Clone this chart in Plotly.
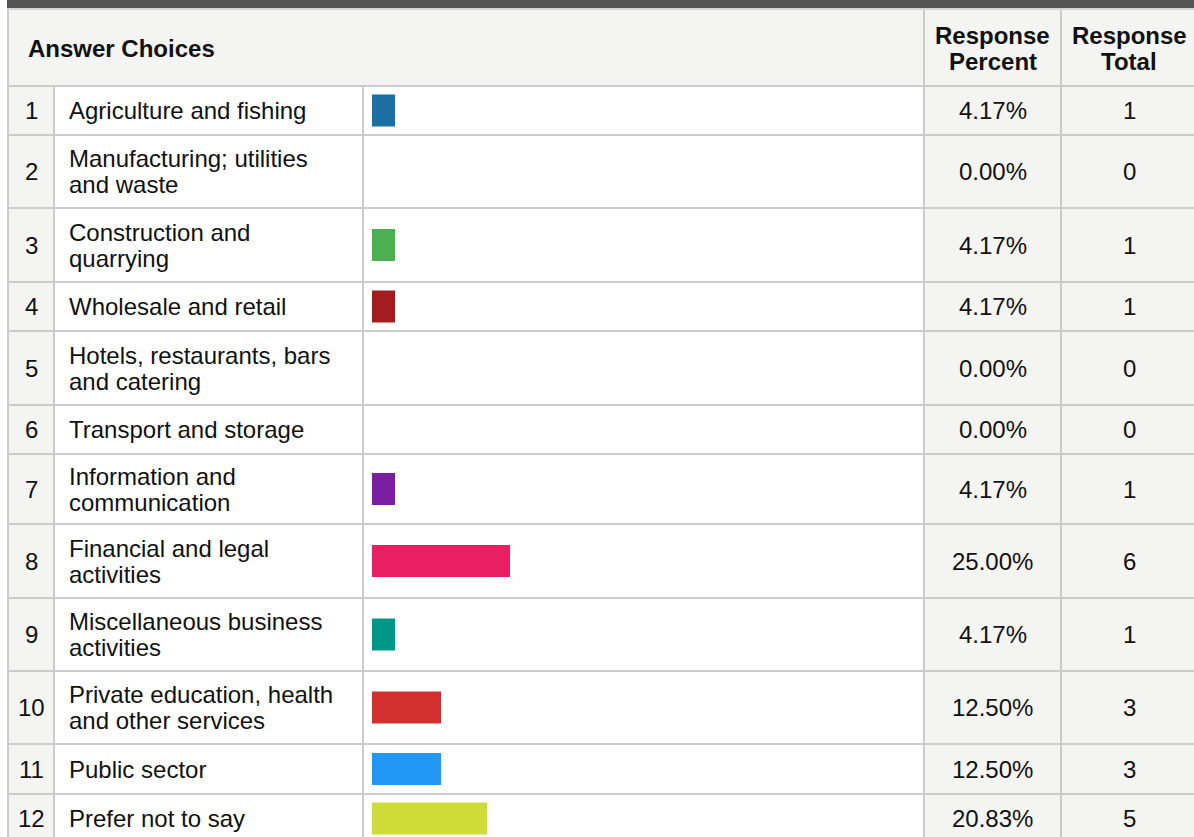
import plotly.graph_objects as go

# ---- data ----
ROW_NUMBERS = [str(i) for i in range(1, 13)]
CHOICES = [
    "Agriculture and fishing",
    "Manufacturing; utilities<br>and waste",
    "Construction and<br>quarrying",
    "Wholesale and retail",
    "Hotels, restaurants, bars<br>and catering",
    "Transport and storage",
    "Information and<br>communication",
    "Financial and legal<br>activities",
    "Miscellaneous business<br>activities",
    "Private education, health<br>and other services",
    "Public sector",
    "Prefer not to say",
]
PERCENTS = [4.17, 0.00, 4.17, 4.17, 0.00, 0.00, 4.17, 25.00, 4.17, 12.50, 12.50, 20.83]
TOTALS = [1, 0, 1, 1, 0, 0, 1, 6, 1, 3, 3, 5]
BAR_COLORS = ["#1c6ea4", "#ffffff", "#4caf50", "#a31c1f", "#ffffff", "#ffffff",
              "#7b1fa2", "#e91e63", "#009688", "#d32f2f", "#2196f3", "#cddc39"]

# ---- layout (pixel units) ----
W, H = 1194, 837
FONT = "Liberation Sans, Arial, sans-serif"
FS = 24
LINE_GAP = 26
BORDER = "#cccccc"
GREY = "#f4f4f2"
TABLE_LEFT = 7
HEADER_TOP, HEADER_BOTTOM = 10, 86
ROW_HEIGHTS = [49, 73, 74, 49, 74, 49, 70, 74, 73, 73, 50, 49]
COL_NUM_R, COL_TEXT_R, COL_BAR_R, COL_PCT_R = 54, 363, 924, 1061
BAR_LEFT = 372

tops = []
y = HEADER_BOTTOM
for h in ROW_HEIGHTS:
    tops.append(y)
    y += h
bottoms = [t + h for t, h in zip(tops, ROW_HEIGHTS)]
centers = [(t + b) / 2 for t, b in zip(tops, bottoms)]

fig = go.Figure()
fig.add_bar(x=PERCENTS, y=centers, orientation="h", xaxis="x2", yaxis="y",
            width=32, marker=dict(color=BAR_COLORS, line_width=0),
            hoverinfo="skip", showlegend=False)

shapes = []


def rect(x0, x1, y0, y1, color):
    shapes.append(dict(type="rect", xref="x", yref="y", x0=x0, x1=x1, y0=y0, y1=y1,
                       fillcolor=color, line_width=0, layer="below"))


def line(x0, x1, y0, y1, width=2):
    shapes.append(dict(type="line", xref="x", yref="y", x0=x0, x1=x1, y0=y0, y1=y1,
                       line=dict(color=BORDER, width=width), layer="below"))


# backgrounds
rect(TABLE_LEFT, W + 10, 0, 8, "#555555")
rect(TABLE_LEFT, W + 10, 8, 10, "#d4d4d4")
rect(TABLE_LEFT, W + 10, HEADER_TOP, HEADER_BOTTOM, GREY)
rect(TABLE_LEFT, COL_NUM_R, HEADER_BOTTOM, H + 20, GREY)
rect(COL_BAR_R, W + 10, HEADER_BOTTOM, H + 20, GREY)

# borders
line(TABLE_LEFT + 1, TABLE_LEFT + 1, 8, H + 20)
for xv in (COL_BAR_R, COL_PCT_R):
    line(xv, xv, HEADER_TOP, H + 20)
for xv in (COL_NUM_R, COL_TEXT_R):
    line(xv, xv, HEADER_BOTTOM, H + 20)
for yv in [HEADER_BOTTOM] + bottoms:
    line(TABLE_LEFT, W + 10, yv, yv, 2)

annotations = []


def text(x, y, s, anchor="center", bold=False):
    annotations.append(dict(x=x, y=y, xref="x", yref="y", text=f"<b>{s}</b>" if bold else s,
                            showarrow=False, xanchor=anchor, yanchor="middle",
                            font=dict(family=FONT, size=FS, color="#111111")))


def multiline(x, yc, s, anchor="center", bold=False):
    parts = s.split("<br>")
    off = (len(parts) - 1) / 2
    for i, p in enumerate(parts):
        text(x, yc + (i - off) * LINE_GAP, p, anchor, bold)


# header
hc = (HEADER_TOP + HEADER_BOTTOM) / 2
multiline(26, hc, "Answer Choices", "left", True)
multiline((COL_BAR_R + COL_PCT_R) / 2, hc, "Response<br>Percent", "center", True)
multiline(COL_PCT_R + 68, hc, "Response<br>Total", "center", True)

# body
for num, label, pct, tot, yc in zip(ROW_NUMBERS, CHOICES, PERCENTS, TOTALS, centers):
    text((TABLE_LEFT + COL_NUM_R) / 2 + 1, yc, num)
    multiline(67, yc, label, "left")
    text((COL_BAR_R + COL_PCT_R) / 2, yc, f"{pct:.2f}%")
    text(COL_PCT_R + 68, yc, str(tot))

fig.update_layout(
    width=W, height=H, margin=dict(l=0, r=0, t=0, b=0),
    paper_bgcolor="white", plot_bgcolor="rgba(0,0,0,0)",
    xaxis=dict(range=[0, W], visible=False, fixedrange=True),
    yaxis=dict(range=[H, 0], visible=False, fixedrange=True),
    xaxis2=dict(domain=[BAR_LEFT / W, COL_BAR_R / W], range=[0, 100], anchor="y",
                visible=False, fixedrange=True),
    shapes=shapes, annotations=annotations,
    showlegend=False,
)

fig.write_html("out.html", config={"displayModeBar": False},
               post_script="document.body.style.margin='0';")
